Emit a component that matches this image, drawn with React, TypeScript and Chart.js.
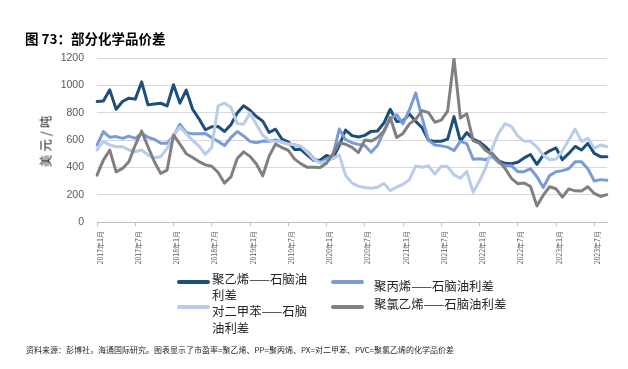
import React, { useEffect, useRef } from 'react';
import { Chart, registerables } from 'chart.js';

Chart.register(...registerables);

const months: string[] = [
  '2017年1月', '2017年2月', '2017年3月', '2017年4月', '2017年5月', '2017年6月', '2017年7月', '2017年8月', '2017年9月', '2017年10月', '2017年11月', '2017年12月',
  '2018年1月', '2018年2月', '2018年3月', '2018年4月', '2018年5月', '2018年6月', '2018年7月', '2018年8月', '2018年9月', '2018年10月', '2018年11月', '2018年12月',
  '2019年1月', '2019年2月', '2019年3月', '2019年4月', '2019年5月', '2019年6月', '2019年7月', '2019年8月', '2019年9月', '2019年10月', '2019年11月', '2019年12月',
  '2020年1月', '2020年2月', '2020年3月', '2020年4月', '2020年5月', '2020年6月', '2020年7月', '2020年8月', '2020年9月', '2020年10月', '2020年11月', '2020年12月',
  '2021年1月', '2021年2月', '2021年3月', '2021年4月', '2021年5月', '2021年6月', '2021年7月', '2021年8月', '2021年9月', '2021年10月', '2021年11月', '2021年12月',
  '2022年1月', '2022年2月', '2022年3月', '2022年4月', '2022年5月', '2022年6月', '2022年7月', '2022年8月', '2022年9月', '2022年10月', '2022年11月', '2022年12月',
  '2023年1月', '2023年2月', '2023年3月', '2023年4月', '2023年5月', '2023年6月', '2023年7月', '2023年8月', '2023年9月',
];

// 聚乙烯——石脑油利差
const pe: number[] = [
  882, 885, 967, 825, 882, 906, 899, 1025, 857, 864, 869, 850,
  1004, 870, 965, 825, 755, 675, 697, 699, 662, 712, 797, 850,
  818, 772, 738, 655, 679, 607, 587, 530, 530, 490, 451, 452,
  487, 466, 560, 673, 632, 622, 634, 663, 666, 724, 825, 736,
  739, 791, 736, 690, 598, 590, 591, 606, 771, 591, 654, 607,
  585, 548, 500, 447, 429, 426, 437, 469, 494, 422, 490, 521,
  542, 456, 502, 553, 527, 576, 502, 478, 478,
];

// 聚丙烯——石脑油利差
const pp: number[] = [
  563, 661, 620, 625, 612, 629, 612, 649, 620, 605, 576, 576,
  629, 715, 655, 645, 645, 648, 617, 590, 560, 617, 662, 630,
  590, 580, 592, 590, 600, 585, 570, 565, 550, 515, 465, 437,
  458, 485, 680, 602, 580, 568, 560, 510, 560, 660, 755, 785,
  718, 820, 945, 760, 598, 563, 557, 548, 523, 590, 574, 460,
  462, 456, 480, 435, 413, 412, 368, 368, 390, 332, 252, 340,
  368, 376, 390, 440, 440, 390, 300, 310, 305,
];

// 对二甲苯——石脑油利差
const px: number[] = [
  527, 590, 563, 551, 551, 527, 514, 527, 490, 470, 478, 539,
  635, 695, 645, 598, 555, 495, 545, 850, 870, 840, 720, 715,
  797, 715, 635, 595, 590, 585, 570, 565, 555, 510, 458, 432,
  445, 465, 490, 340, 285, 262, 253, 247, 255, 282, 230, 255,
  275, 310, 410, 400, 410, 350, 408, 405, 345, 320, 370, 218,
  300, 400, 540, 650, 720, 700, 630, 592, 590, 550, 490, 455,
  460, 520, 600, 680, 590, 612, 540, 563, 551,
];

// 聚氯乙烯——石脑油利差
const pvc: number[] = [
  343, 453, 527, 367, 392, 441, 563, 665, 551, 441, 355, 380,
  637, 570, 500, 472, 442, 418, 408, 362, 284, 330, 465, 513,
  480, 425, 338, 482, 570, 545, 525, 460, 425, 400, 400, 398,
  430, 498, 580, 569, 546, 508, 600, 592, 618, 665, 765, 618,
  648, 718, 752, 815, 800, 730, 745, 812, 1195, 760, 792, 595,
  575, 522, 496, 450, 392, 320, 280, 285, 260, 118, 196, 258,
  243, 182, 242, 228, 227, 258, 209, 187, 200,
];

const yTicks: number[] = [0, 200, 400, 600, 800, 1000, 1200];

const seriesNames: string[] = ['聚乙烯——石脑油利差', '聚丙烯——石脑油利差', '对二甲苯——石脑油利差', '聚氯乙烯——石脑油利差'];
const colors: string[] = ['#1F4E79', '#7B9BD6', '#B9CCEA', '#808080'];

const FONT = "'Liberation Sans', 'Noto Sans CJK SC', sans-serif";
const CJK = "'Noto Sans CJK SC', 'Liberation Sans', sans-serif";

export default function App() {
  const ref = useRef<HTMLCanvasElement | null>(null);

  useEffect(() => {
    if (!ref.current) return;
    const data = [pe, pp, px, pvc];
    const chart = new Chart(ref.current, {
      type: 'line',
      data: {
        labels: months,
        datasets: data.map((d, k) => ({
          label: seriesNames[k],
          data: d,
          borderColor: colors[k],
          backgroundColor: colors[k],
          borderWidth: 3,
          pointRadius: 0,
          tension: 0,
          fill: false,
          borderJoinStyle: 'round' as const,
          borderCapStyle: 'round' as const,
          order: 3 - k,
        })),
      },
      options: {
        responsive: false,
        animation: false,
        devicePixelRatio: 1,
        layout: { padding: { top: 58, right: 21, left: 0, bottom: 0 } },
        plugins: { legend: { display: false }, tooltip: { enabled: false }, title: { display: false } },
        scales: {
          x: {
            type: 'category',
            offset: false,
            afterFit: (s: any) => { s.height = 147; },
            grid: {
              drawOnChartArea: false,
              drawTicks: true,
              tickLength: 4,
              tickColor: (ctx: any) => (ctx.index % 6 === 0 ? '#BFBFBF' : 'rgba(0,0,0,0)'),
              color: '#BFBFBF',
            },
            border: { display: true, color: '#BFBFBF', width: 1 },
            ticks: {
              autoSkip: false,
              maxRotation: 90,
              minRotation: 90,
              padding: 5,
              labelOffset: 3,
              color: '#595959',
              font: { size: 7, family: CJK },
              callback: (_v: any, i: number) => (i % 6 === 0 ? months[i] : ''),
            },
          },
          y: {
            min: 0,
            max: 1200,
            afterFit: (s: any) => { s.width = 97; },
            afterBuildTicks: (s: any) => { s.ticks = yTicks.map((v) => ({ value: v })); },
            grid: { color: '#D9D9D9', lineWidth: 1, drawTicks: false },
            border: { display: false },
            ticks: {
              padding: 13,
              color: '#595959',
              font: { size: 10.5, family: FONT },
              callback: (v: any) => String(v),
            },
          },
        },
      },
    });
    return () => chart.destroy();
  }, []);

  const txt: React.CSSProperties = {
    position: 'absolute',
    fontFamily: CJK,
    fontSize: '12.4px',
    lineHeight: '16.6px',
    color: '#262626',
    whiteSpace: 'nowrap',
  };
  const line = (left: number, top: number, color: string): React.CSSProperties => ({
    position: 'absolute',
    left,
    top,
    width: 33,
    height: 3.5,
    borderRadius: 2,
    background: color,
  });

  return (
    <div style={{ position: 'absolute', left: 0, top: 0, width: 628, height: 369, background: '#fff', overflow: 'hidden' }}>
      <canvas ref={ref} width={628} height={369} style={{ position: 'absolute', left: 0, top: 0, width: 628, height: 369 }} />
      <div style={{ position: 'absolute', left: 25, top: 29, fontFamily: CJK, fontWeight: 700, fontSize: '13.5px', lineHeight: '18px', color: '#000', whiteSpace: 'nowrap' }}>
        图 73：部分化学品价差
      </div>
      <div style={{ position: 'absolute', left: 45, top: 140, transform: 'translate(-50%, -50%) rotate(-90deg)', fontFamily: CJK, fontSize: '12.5px', letterSpacing: '3px', color: '#262626', whiteSpace: 'nowrap' }}>
        美元/吨
      </div>
      <div style={line(177, 280, colors[0])} />
      <div style={{ ...txt, left: 212, top: 270.6 }}>聚乙烯——石脑油<br />利差</div>
      <div style={line(331, 280, colors[1])} />
      <div style={{ ...txt, left: 374, top: 278.4 }}>{seriesNames[1]}</div>
      <div style={line(177, 305, colors[2])} />
      <div style={{ ...txt, left: 212, top: 303.4 }}>对二甲苯——石脑<br />油利差</div>
      <div style={line(331, 305, colors[3])} />
      <div style={{ ...txt, left: 374, top: 295.7 }}>{seriesNames[3]}</div>
      <div style={{ position: 'absolute', left: 26, top: 344, fontFamily: CJK, fontSize: '8px', lineHeight: '12px', color: '#262626', whiteSpace: 'nowrap' }}>
        资料来源：彭博社，海通国际研究。图表显示了市盈率=聚乙烯、PP=聚丙烯、PX=对二甲苯、PVC=聚氯乙烯的化学品价差
      </div>
    </div>
  );
}
